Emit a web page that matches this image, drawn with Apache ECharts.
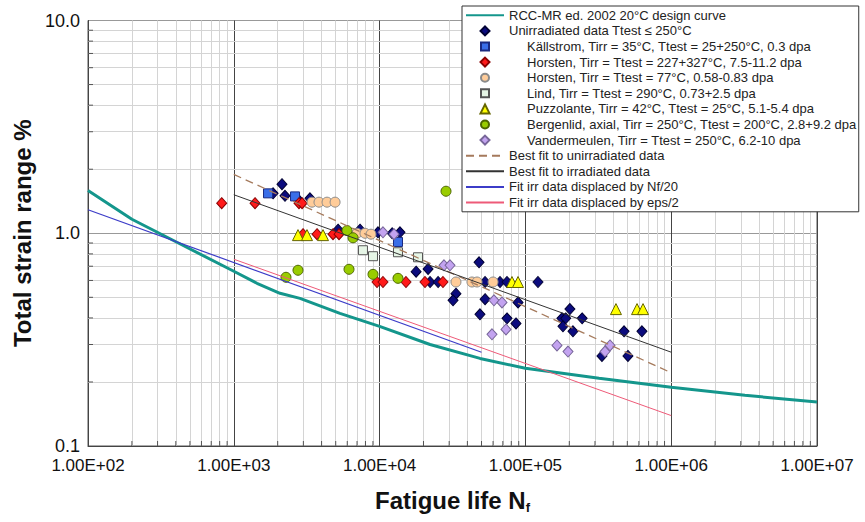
<!DOCTYPE html>
<html><head><meta charset="utf-8">
<script src="https://cdn.jsdelivr.net/npm/echarts@6/dist/echarts.min.js"></script>
<style>html,body{margin:0;padding:0;background:#fff}#c{width:865px;height:522px}</style>
</head><body><div id="c"></div>
<script>
// ---- tick labels ----
const xTickLabels = ['1.00E+02','1.00E+03','1.00E+04','1.00E+05','1.00E+06','1.00E+07'];
const yTickLabels = ['0.1','1.0','10.0'];
const minorMultipliers = [2,3,4,5,6,7,8,9];
const xDecades = [100,1000,10000,100000,1000000];
const yDecades = [0.1,1];

// ---- series names ----
const names = [
  'RCC-MR ed. 2002 20°C design curve',
  'Unirradiated data Ttest ≤ 250°C',
  'Källstrom, Tirr = 35°C, Ttest = 25+250°C, 0.3 dpa',
  'Horsten, Tirr = Ttest = 227+327°C, 7.5-11.2 dpa',
  'Horsten, Tirr = Ttest = 77°C, 0.58-0.83 dpa',
  'Lind, Tirr = Ttest = 290°C, 0.73+2.5 dpa',
  'Puzzolante, Tirr = 42°C, Ttest = 25°C, 5.1-5.4 dpa',
  'Bergenlid, axial, Tirr = 250°C, Ttest = 200°C, 2.8+9.2 dpa',
  'Vandermeulen, Tirr = Ttest = 250°C, 6.2-10 dpa',
  'Best fit to unirradiated data',
  'Best fit to irradiated data',
  'Fit irr data displaced by Nf/20',
  'Fit irr data displaced by eps/2'
];

// ---- curves [Nf, strain %] ----
const rccCurve = [[100,1.59],[200,1.164],[407,0.907],[1000,0.663],[1442,0.582],[2075,0.522],[2845,0.494],[5346,0.420],[10000,0.365],[22180,0.30],[48830,0.258],[100000,0.232],[320000,0.208],[1000000,0.189],[3200000,0.173],[10000000,0.161]];
const fitUnirr = [[1000,1.89],[1000000,0.221]];
const fitIrr = [[1000,1.517],[1000000,0.276]];
const fitNf20 = [[100,1.29],[50000,0.276]];
const fitEps2 = [[1000,0.755],[1000000,0.139]];

// ---- data points [Nf, strain %] ----
const unirradiated = [[2140,1.70],[1860,1.54],[2245,1.50],[2850,1.41],[3330,1.46],
  [5190,1.04],[7340,1.04],[9750,1.01],[12200,1.0],[13800,1.01],
  [17800,0.66],[21500,0.68],[22200,0.59],[25200,0.59],
  [48100,0.73],[52900,0.59],[67000,0.59],[74800,0.59],
  [33400,0.52],[31900,0.484],[52900,0.49],[89000,0.473],
  [48800,0.416],[74800,0.398],[86200,0.377],
  [122000,0.59],[202000,0.44],[178000,0.398],[189000,0.398],[245000,0.398],
  [181000,0.365],[212000,0.346],[475000,0.346],[630000,0.346],
  [335000,0.265],[505000,0.265]];
const kallstrom = [[1717,1.54],[2630,1.49],[13370,0.91]];
const horstenRed = [[826,1.384],[1398,1.384],[2800,1.384],[2940,1.384],[2983,0.99],[3722,0.99],[4791,0.99],[5268,0.99],[9600,0.59],[10550,0.59],[15170,0.59],[20480,0.59],[27210,0.59]];
const horstenPeach = [[3440,1.40],[3840,1.40],[4360,1.40],[4950,1.40],[7000,1.0],[7940,1.0],[8730,0.99],[33400,0.59],[43000,0.59],[46600,0.59],[60000,0.59]];
const lind = [[7690,0.832],[9010,0.78],[13370,0.814],[18340,0.771]];
const puzzolante = [[2756,0.98],[3177,0.98],[4091,0.98],[80900,0.59],[89000,0.59],[418000,0.44],[583000,0.44],[641000,0.44]];
const bergenlid = [[2280,0.621],[2756,0.67],[5977,1.03],[6573,0.952],[6168,0.677],[9010,0.641],[13370,0.614],[28540,1.576]];
const vandermeulen = [[10550,1.01],[12560,0.99],[27650,0.707],[30400,0.707],[60900,0.484],[69100,0.473],[73600,0.353],[59000,0.335],[164700,0.297],[196000,0.278],[351600,0.278],[380400,0.297]];

// ---- build ----
const X_MIN = 100, X_MAX = 1e7, Y_MIN = 0.1, Y_MAX = 10;
const xMinor = [], yMinor = [];
xDecades.forEach(d => minorMultipliers.forEach(m => xMinor.push(d*m)));
yDecades.forEach(d => minorMultipliers.forEach(m => yMinor.push(+(d*m).toPrecision(3))));

const FONT = '"Liberation Sans", Arial, sans-serif';
const indent = '\u00a0\u00a0\u00a0\u00a0\u00a0';
const lineIdx = [0, 9, 10, 11, 12];

// legend icons: centred marker inside a 38-wide box (degenerate end points keep the box width)
const ICON = {
  diamond: 'path://M0,5L0,5M19,0.5L23.5,5L19,9.5L14.5,5ZM38,5L38,5',
  rect: 'path://M0,5L0,5M15,1L23,1L23,9L15,9ZM38,5L38,5',
  circle: 'path://M0,5L0,5M23,5A4,4,0,1,1,15,5A4,4,0,1,1,23,5ZM38,5L38,5',
  triangle: 'path://M0,5L0,5M19,0.5L23.5,9.5L14.5,9.5ZM38,5L38,5'
};
const scatterIcons = {1:'diamond',2:'rect',3:'diamond',4:'circle',5:'rect',6:'triangle',7:'circle',8:'diamond'};

function lineSeries(name, data, color, width, type, z) {
  return {name, type:'line', data, symbol:'none', showSymbol:false, silent:true, z,
    lineStyle:{color, width, type: type||'solid'}, itemStyle:{color}, animation:false, clip:true};
}
function scatterSeries(name, data, symbol, size, fill, border, z) {
  return {name, type:'scatter', data, symbol, symbolSize:size, z, silent:true, animation:false,
    itemStyle:{color:fill, borderColor:border, borderWidth:1, opacity:1}};
}

const legendData = names.map((n, i) => lineIdx.indexOf(i) >= 0
  ? {name:n, itemStyle:{opacity:0}}
  : {name:n, icon: ICON[scatterIcons[i]]});

const chart = echarts.init(document.getElementById('c'), null, {renderer:'svg'});
chart.setOption({
  backgroundColor:'#fff',
  animation:false,
  grid:{left:88, top:20.5, right:48, bottom:76, show:true, borderColor:'#555', borderWidth:1, backgroundColor:'transparent'},
  xAxis:{type:'log', logBase:10, min:X_MIN, max:X_MAX,
    axisLine:{show:true, lineStyle:{color:'#444'}}, axisTick:{show:false},
    splitLine:{show:true, lineStyle:{color:'#444', width:1}},
    axisLabel:{color:'#111', fontSize:17, fontFamily:FONT, margin:11, showMinLabel:true, showMaxLabel:true,
      formatter:v => xTickLabels[Math.round(Math.log10(v)) - 2]},
    name:'{a|Fatigue life N}{b|f}', nameLocation:'middle', nameGap:41,
    nameTextStyle:{rich:{a:{fontSize:24, fontWeight:'bold', fontFamily:FONT, color:'#111', lineHeight:27},
                         b:{fontSize:13, fontWeight:'bold', fontFamily:FONT, color:'#111', verticalAlign:'bottom', lineHeight:20}}}
  },
  yAxis:{type:'log', logBase:10, min:Y_MIN, max:Y_MAX,
    axisLine:{show:true, lineStyle:{color:'#444'}}, axisTick:{show:false},
    splitLine:{show:true, lineStyle:{color:'#999', width:1}},
    axisLabel:{color:'#111', fontSize:18, fontFamily:FONT, margin:8, showMinLabel:true, showMaxLabel:true,
      formatter:v => yTickLabels[Math.round(Math.log10(v)) + 1]},
    name:'Total strain range %', nameLocation:'middle', nameGap:46,
    nameTextStyle:{fontSize:24, fontWeight:'bold', fontFamily:FONT, color:'#111'}
  },
  legend:{
    orient:'vertical', left:462, top:6, padding:[1.5,2,1.5,3], itemGap:0,
    itemWidth:38, itemHeight:9, selectedMode:false,
    backgroundColor:'#fff', borderColor:'#333', borderWidth:1,
    textStyle:{fontSize:13, fontFamily:FONT, color:'#222', lineHeight:15.6},
    data:legendData,
    formatter: n => (names.indexOf(n) >= 2 && names.indexOf(n) <= 8) ? indent + n : n
  },
  series:[
    {name:'_grid', type:'scatter', silent:true, z:1, animation:false, clip:false,
      data:xMinor.map(v => [v, Y_MIN]), symbol:'rect', symbolSize:[1,5], symbolOffset:[0,-2.5],
      itemStyle:{color:'#333'},
      markLine:{silent:true, symbol:['none','none'], z:0.5, animation:false, label:{show:false},
        lineStyle:{color:'#d4d4d4', width:1, type:'solid'},
        data:[...xMinor.map(v => ({xAxis:v})), ...yMinor.map(v => ({yAxis:v}))]}},
    {name:'_ticksY', type:'scatter', silent:true, z:1, animation:false, clip:false,
      data:yMinor.map(v => [X_MIN, v]), symbol:'rect', symbolSize:[5,1], symbolOffset:[2.5,0],
      itemStyle:{color:'#333'}},
    lineSeries(names[0], rccCurve, '#14968c', 3, 'solid', 3),
    scatterSeries(names[1], unirradiated, 'diamond', [10,11], '#0b0b7e', '#000033', 4),
    scatterSeries(names[2], kallstrom, 'rect', 9, '#3a6ee8', '#1a2a80', 5),
    scatterSeries(names[3], horstenRed, 'diamond', [10,11], '#ff1a1a', '#8b0000', 5),
    scatterSeries(names[4], horstenPeach, 'circle', 10, '#ffcc99', '#8a8a8a', 5),
    scatterSeries(names[5], lind, 'rect', 9, '#e6f5e6', '#555555', 5),
    scatterSeries(names[6], puzzolante, 'triangle', 11, '#ffff00', '#666600', 5),
    scatterSeries(names[7], bergenlid, 'circle', 10, '#99cc00', '#4d6600', 5),
    scatterSeries(names[8], vandermeulen, 'diamond', [10,11], '#c3a3f0', '#776699', 5),
    lineSeries(names[9], fitUnirr, '#a57a5c', 1.3, [8,5], 6),
    lineSeries(names[10], fitIrr, '#333333', 1, 'solid', 6),
    lineSeries(names[11], fitNf20, '#3c3cc8', 1.2, 'solid', 6),
    lineSeries(names[12], fitEps2, '#ee5a78', 1, 'solid', 6)
  ]
});
</script></body></html>
